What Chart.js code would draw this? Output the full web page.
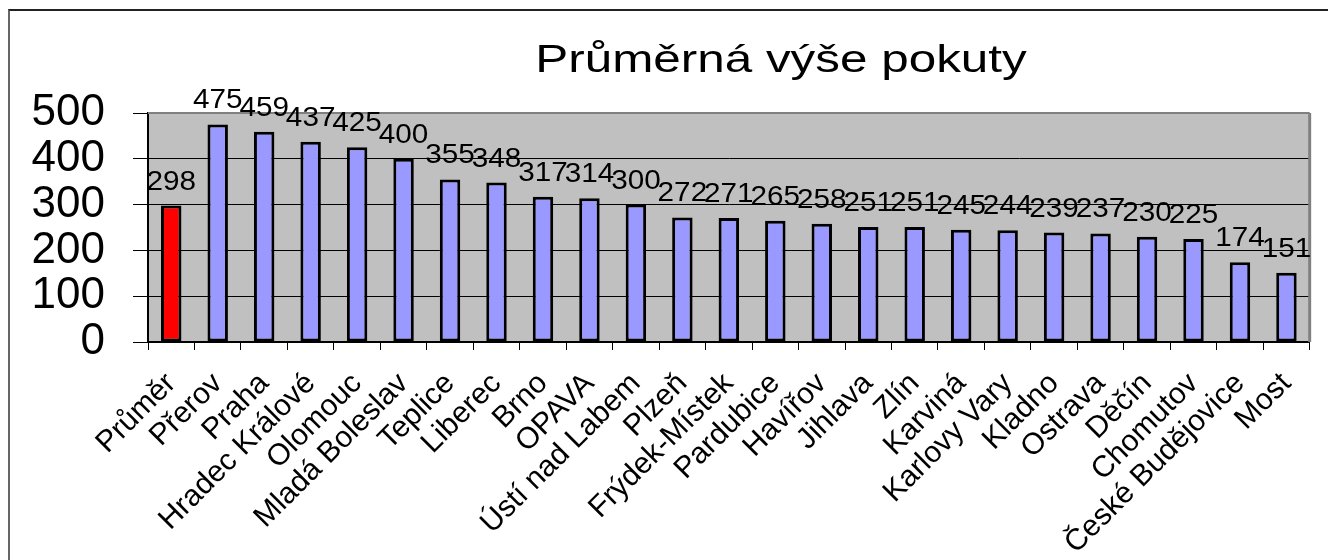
<!DOCTYPE html>
<html>
<head>
<meta charset="utf-8">
<script src="https://cdn.jsdelivr.net/npm/chart.js@4/dist/chart.umd.min.js"></script>
<style>
    html, body { margin: 0; padding: 0; background: #fff; }
    #wrap { position: relative; width: 1328px; height: 560px; overflow: hidden; }
    #frame { position: absolute; left: 8px; top: 9px; width: 1340px; height: 580px;
             border-top: 2px solid #222; border-left: 2px solid #666; }
    canvas { position: absolute; left: 0; top: 0; }
</style>
</head>
<body>
<div id="wrap">
    <div id="frame"></div>
    <canvas id="plot-fines" width="1328" height="560"></canvas>
</div>
<script>
const chartTitle = 'Průměrná výše pokuty';

const cities = [
    'Průměr', 'Přerov', 'Praha', 'Hradec Králové', 'Olomouc', 'Mladá Boleslav',
    'Teplice', 'Liberec', 'Brno', 'OPAVA', 'Ústí nad Labem', 'Plzeň',
    'Frýdek-Místek', 'Pardubice', 'Havířov', 'Jihlava', 'Zlín', 'Karviná',
    'Karlovy Vary', 'Kladno', 'Ostrava', 'Děčín', 'Chomutov', 'České Budějovice', 'Most'
];

const fines = [
    298, 475, 459, 437, 425, 400,
    355, 348, 317, 314, 300, 272,
    271, 265, 258, 251, 251, 245,
    244, 239, 237, 230, 225, 174, 151
];

const yTicks = [0, 100, 200, 300, 400, 500];

const barColors = cities.map((c, i) => i === 0 ? '#FF0000' : '#9999FF');

const font = 'Arial, "Liberation Sans", sans-serif';

// gray plot area, drawn before everything else
const plotBackground = {
    id: 'plotBackground',
    beforeDraw(chart) {
        const { ctx, chartArea: a } = chart;
        ctx.save();
        ctx.fillStyle = '#C0C0C0';
        ctx.fillRect(a.left, a.top, a.right - a.left, a.bottom - a.top);
        ctx.restore();
    },
    beforeDatasetsDraw(chart) {
        const { ctx, chartArea: a } = chart;
        ctx.save();
        ctx.strokeStyle = '#808080';
        ctx.lineWidth = 2;
        ctx.beginPath();
        ctx.moveTo(a.left, a.top);
        ctx.lineTo(a.right, a.top);
        ctx.stroke();
        ctx.lineWidth = 3;
        ctx.beginPath();
        ctx.moveTo(a.right, a.top);
        ctx.lineTo(a.right, a.bottom);
        ctx.stroke();
        ctx.restore();
    }
};

// value labels above the bars + the title
const barLabels = {
    id: 'barLabels',
    afterDraw(chart) {
        const ctx = chart.ctx;
        const meta = chart.getDatasetMeta(0);
        ctx.save();
        ctx.fillStyle = '#000';
        ctx.textAlign = 'center';
        ctx.textBaseline = 'alphabetic';
        ctx.font = '27px ' + font;
        meta.data.forEach((bar, i) => {
            ctx.save();
            ctx.translate(bar.x, bar.y - 16);
            ctx.scale(1.1, 1);
            ctx.fillText(String(fines[i]), 0, 0);
            ctx.restore();
        });

        ctx.font = '38px ' + font;
        ctx.translate(781, 72);
        ctx.scale(1.3, 1);
        ctx.fillText(chartTitle, 0, 0);
        ctx.restore();
    }
};

new Chart('plot-fines', {
    type: 'bar',
    data: {
        labels: cities,
        datasets: [{
            data: fines,
            backgroundColor: barColors,
            borderColor: '#000',
            borderWidth: 3,
            borderSkipped: false,
            categoryPercentage: 1,
            barPercentage: 0.44
        }]
    },
    options: {
        responsive: false,
        animation: false,
        layout: {
            padding: { top: 113, right: 5, left: 0, bottom: 0 }
        },
        plugins: {
            legend: { display: false },
            title: { display: false },
            tooltip: { enabled: false }
        },
        scales: {
            x: {
                afterFit(scale) { scale.height = 218; },
                grid: {
                    offset: true,
                    drawOnChartArea: false,
                    color: '#000',
                    tickLength: 8
                },
                border: { color: '#000', width: 2 },
                ticks: {
                    autoSkip: false,
                    minRotation: 45,
                    maxRotation: 45,
                    padding: 16,
                    color: '#000',
                    font: { family: font, size: 30 }
                }
            },
            y: {
                min: 0,
                max: 500,
                afterFit(scale) { scale.width = 148; },
                afterBuildTicks(scale) { scale.ticks = yTicks.map(v => ({ value: v })); },
                grid: {
                    color: '#000',
                    lineWidth: 1,
                    tickLength: 15
                },
                border: { color: '#000', width: 2 },
                ticks: {
                    autoSkip: false,
                    padding: 28,
                    color: '#000',
                    font: { family: font, size: 44 }
                }
            }
        }
    },
    plugins: [plotBackground, barLabels]
});
</script>
</body>
</html>
